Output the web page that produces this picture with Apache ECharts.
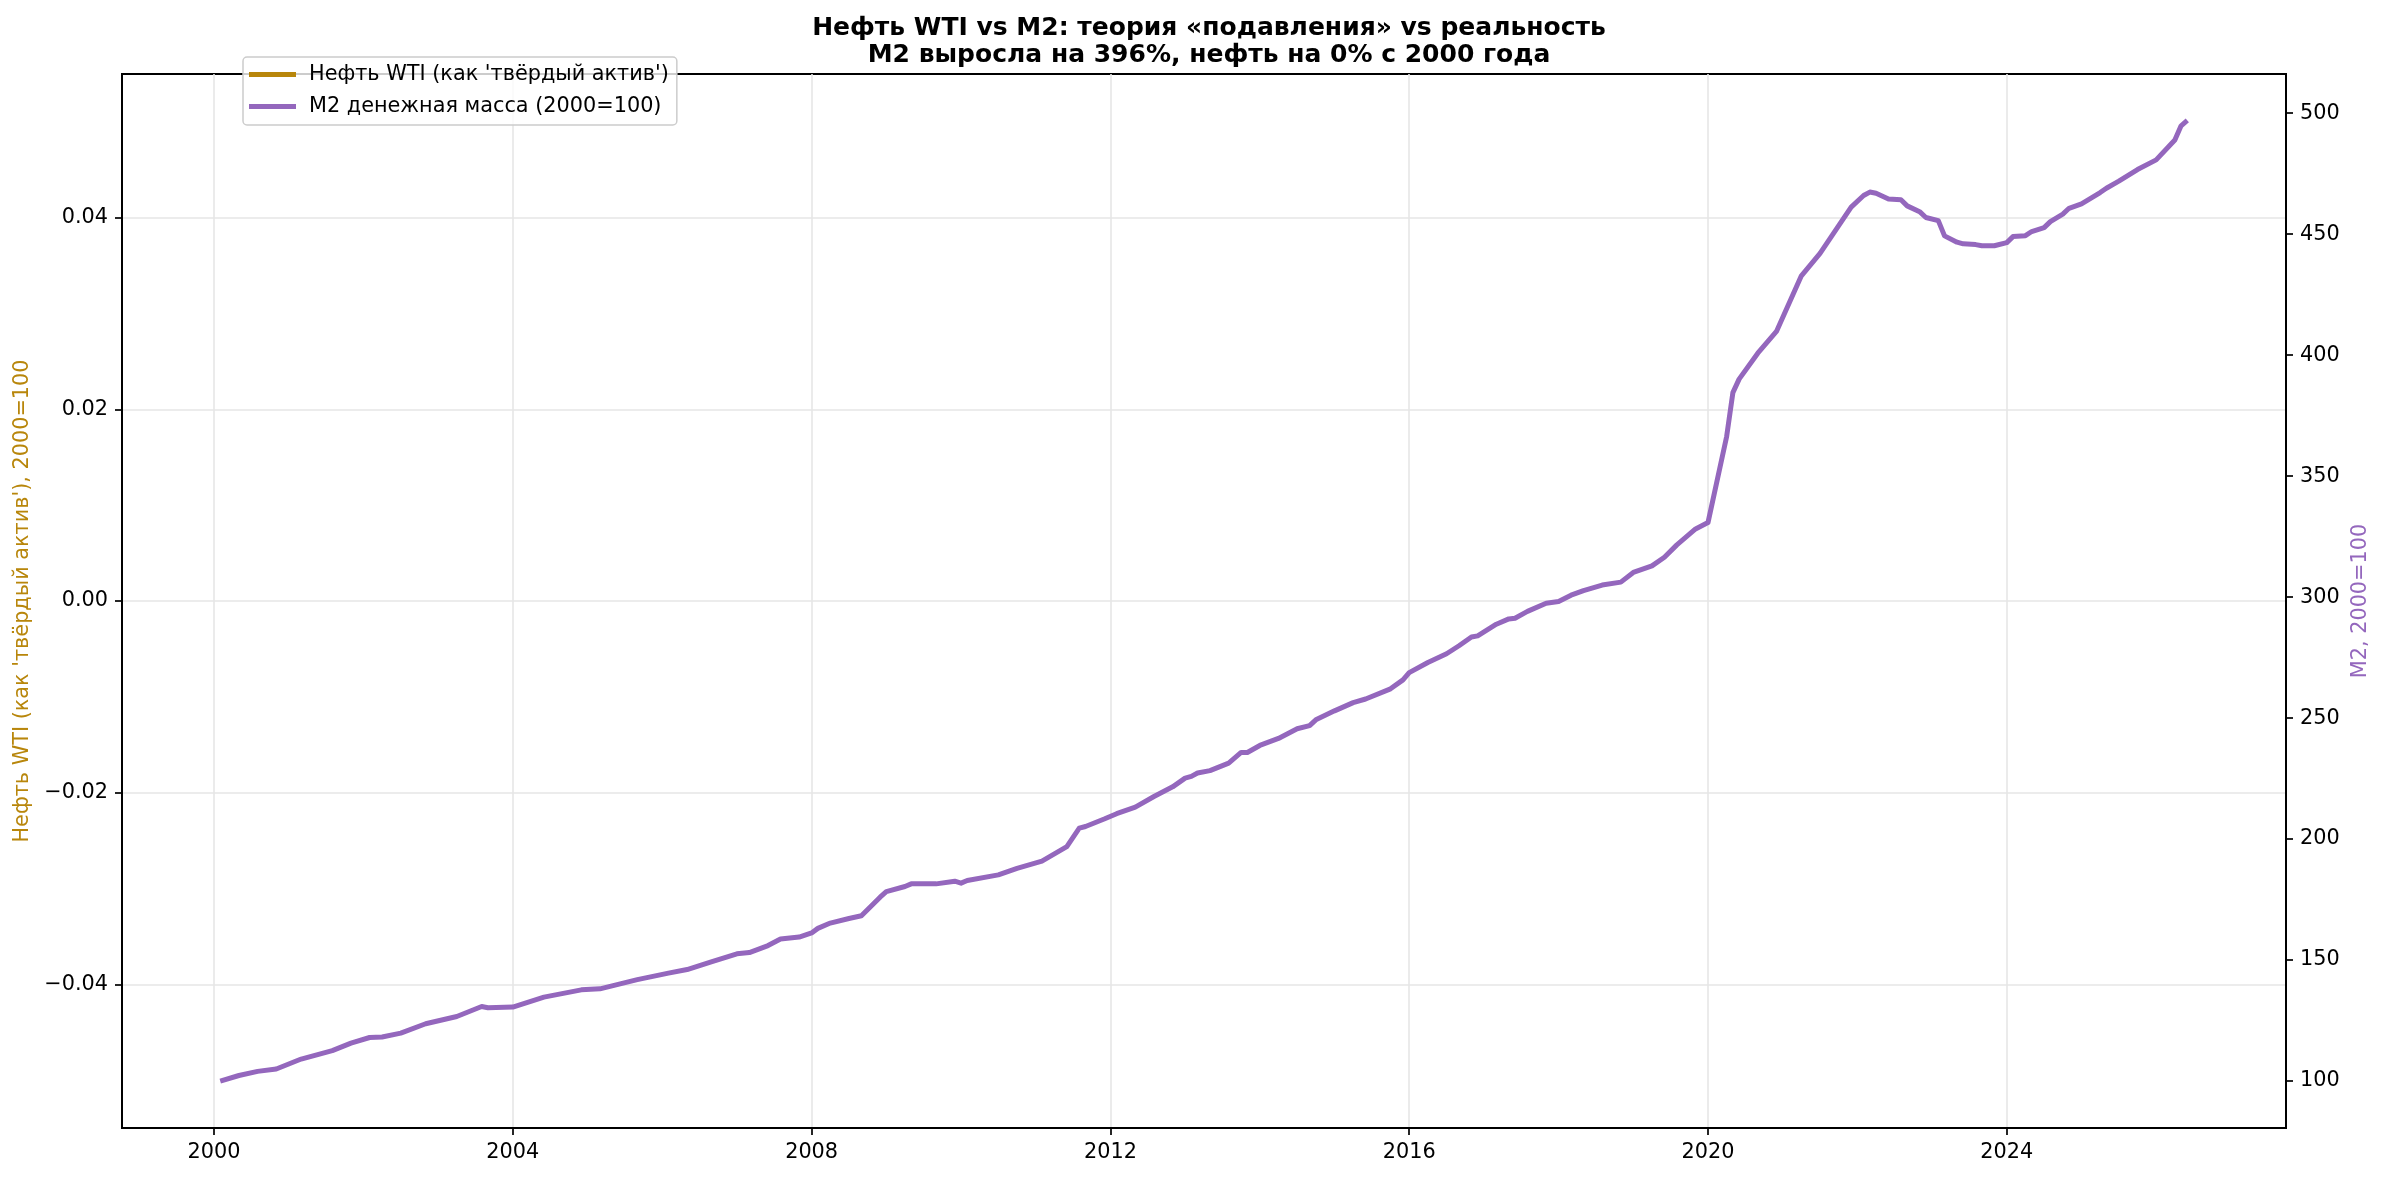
<!DOCTYPE html>
<html>
<head>
<meta charset="utf-8">
<script src="https://cdn.jsdelivr.net/npm/echarts@6/dist/echarts.min.js"></script>
<style>
  html, body { margin: 0; padding: 0; background: #fff; }
  #main { width: 2384px; height: 1178px; }
</style>
</head>
<body>
<div id="main"></div>
<script>
// месяцы (конец месяца) и индекс M2, 2000=100
var months = [
  '2000-01','2000-04','2000-07','2000-10','2001-02','2001-07','2001-10',
  '2002-01','2002-03','2002-06','2002-10','2003-03','2003-07','2003-08','2003-12',
  '2004-05','2004-11','2005-02','2005-08','2006-01','2006-04','2006-08','2006-12',
  '2007-02','2007-05','2007-07','2007-10','2007-12','2008-01','2008-03','2008-06',
  '2008-08','2008-11','2008-12','2009-03','2009-04','2009-08','2009-11','2009-12',
  '2010-01','2010-06','2010-09','2011-01','2011-05','2011-07','2011-08','2011-11',
  '2012-01','2012-04','2012-07','2012-10','2012-12','2013-01','2013-02','2013-04',
  '2013-07','2013-09','2013-10','2013-12','2014-03','2014-06','2014-08','2014-09',
  '2014-12','2015-03','2015-05','2015-09','2015-11','2015-12','2016-03','2016-06',
  '2016-08','2016-10','2016-11','2017-02','2017-04','2017-05','2017-07','2017-10',
  '2017-12','2018-02','2018-04','2018-07','2018-10','2018-12','2019-03','2019-05',
  '2019-07','2019-10','2019-12','2020-03','2020-04','2020-05','2020-08','2020-11',
  '2021-03','2021-06','2021-11','2022-01','2022-02','2022-03','2022-05','2022-07',
  '2022-08','2022-10','2022-11','2023-01','2023-02','2023-04','2023-05','2023-07',
  '2023-08','2023-10','2023-12','2024-01','2024-03','2024-04','2024-06','2024-07',
  '2024-09','2024-10','2024-12','2025-03','2025-04','2025-06','2025-09','2025-12',
  '2026-03','2026-04','2026-05'
];
var m2Index = [
  100.0, 102.3, 104.0, 105.0, 109.1, 112.6, 115.7,
  118.0, 118.2, 119.8, 123.7, 126.7, 130.8, 130.3, 130.6,
  134.7, 137.7, 138.1, 141.9, 144.6, 146.1, 149.4, 152.6,
  153.1, 156.0, 158.7, 159.5, 161.2, 163.1, 165.3, 167.2,
  168.3, 176.0, 178.3, 180.4, 181.5, 181.5, 182.6, 181.8,
  182.9, 185.2, 187.9, 190.9, 196.9, 204.5, 205.2, 208.3,
  210.5, 213.2, 217.6, 221.6, 225.2, 225.9, 227.3, 228.3,
  231.4, 235.8, 235.8, 238.7, 241.6, 245.6, 246.9, 249.3,
  253.0, 256.4, 257.9, 262.1, 265.8, 268.8, 273.0, 276.6,
  279.9, 283.5, 284.0, 288.8, 291.0, 291.3, 294.1, 297.5,
  298.2, 300.8, 302.7, 305.0, 306.2, 310.2, 312.9, 316.5,
  321.6, 328.2, 330.8, 366.4, 384.5, 390.1, 400.8, 409.8,
  432.8, 442.1, 461.2, 466.0, 467.4, 466.9, 464.5, 464.2,
  461.7, 459.3, 456.9, 455.6, 449.3, 446.7, 446.0, 445.7,
  445.2, 445.2, 446.5, 449.0, 449.4, 451.1, 452.7, 455.2,
  458.3, 460.7, 462.5, 467.2, 469.0, 471.9, 476.7, 480.7,
  488.9, 494.8, 497.0
];
// нефть: на графике линии нет
var oilIndex = [];

var xTicks = [2000, 2004, 2008, 2012, 2016, 2020, 2024];
var leftTicks = [-0.04, -0.02, 0.0, 0.02, 0.04];
var rightTicks = [100, 150, 200, 250, 300, 350, 400, 450, 500];

var OIL_COLOR = '#B8860B';
var M2_COLOR = '#9467BD';
var FONT = 'DejaVu Sans';
var SPINE = 2;

function toYear(s) {
  var p = s.split('-');
  return +p[0] + (+p[1]) / 12;
}

var m2Data = months.map(function (m, i) { return [toYear(m), m2Index[i]]; });

var myChart = echarts.init(document.getElementById('main'));

var option = {
  backgroundColor: '#fff',
  animation: false,
  textStyle: { fontFamily: FONT },
  title: {
    text: 'Нефть WTI vs M2: теория «подавления» vs реальность\nM2 выросла на 396%, нефть на 0% с 2000 года',
    left: 1204,
    top: 10,
    textAlign: 'center',
    textStyle: {
      fontFamily: FONT,
      fontSize: 25,
      fontWeight: 'bold',
      lineHeight: 27,
      color: '#000'
    }
  },
  legend: {
    orient: 'vertical',
    left: 243,
    top: 57,
    padding: [7, 8, 8, 6],
    itemGap: 11,
    itemWidth: 47,
    itemHeight: 5,
    icon: 'rect',
    backgroundColor: 'rgba(255,255,255,0.8)',
    borderColor: '#cccccc',
    borderWidth: 1.5,
    borderRadius: 4,
    textStyle: { fontFamily: FONT, fontSize: 20.8, color: '#000', padding: [0, 0, 0, 8] },
    data: ["Нефть WTI (как 'твёрдый актив')", 'M2 денежная масса (2000=100)']
  },
  grid: {
    left: 122,
    right: 98,
    top: 74,
    bottom: 50,
    show: true,
    borderColor: '#000',
    borderWidth: SPINE,
    outerBoundsMode: 'none'
  },
  xAxis: {
    type: 'value',
    min: 1998.768,
    max: 2027.738,
    axisLine: { show: true, onZero: false, lineStyle: { color: '#000', width: SPINE } },
    axisTick: { show: true, length: 7, customValues: xTicks, lineStyle: { color: '#000', width: 1.7 } },
    axisLabel: {
      customValues: xTicks,
      margin: 14,
      fontFamily: FONT,
      fontSize: 20.8,
      color: '#000',
      formatter: function (v) { return String(Math.round(v)); }
    },
    splitLine: { show: true, lineStyle: { color: '#e6e6e6', width: 1.6 } }
  },
  yAxis: [
    {
      type: 'value',
      position: 'left',
      min: -0.055,
      max: 0.055,
      name: "Нефть WTI (как 'твёрдый актив'), 2000=100",
      nameLocation: 'middle',
      nameGap: 86,
      nameTextStyle: { fontFamily: FONT, fontSize: 20.8, color: OIL_COLOR },
      axisLine: { show: true, onZero: false, lineStyle: { color: '#000', width: SPINE } },
      axisTick: { show: true, length: 7, customValues: leftTicks, lineStyle: { color: '#000', width: 1.7 } },
      axisLabel: {
        customValues: leftTicks,
        margin: 14,
        fontFamily: FONT,
        fontSize: 20.8,
        color: '#000',
        formatter: function (v) { return v.toFixed(2).replace('-', '\u2212'); }
      },
      splitLine: { show: true, lineStyle: { color: '#e6e6e6', width: 1.6 } }
    },
    {
      type: 'value',
      position: 'right',
      min: 80.6,
      max: 516.2,
      name: 'M2, 2000=100',
      nameLocation: 'middle',
      nameGap: 64,
      nameTextStyle: { fontFamily: FONT, fontSize: 20.8, color: M2_COLOR },
      axisLine: { show: true, onZero: false, lineStyle: { color: '#000', width: SPINE } },
      axisTick: { show: true, length: 7, customValues: rightTicks, lineStyle: { color: '#000', width: 1.7 } },
      axisLabel: {
        customValues: rightTicks,
        margin: 14,
        fontFamily: FONT,
        fontSize: 20.8,
        color: '#000'
      },
      splitLine: { show: false }
    }
  ],
  series: [
    {
      name: "Нефть WTI (как 'твёрдый актив')",
      type: 'line',
      yAxisIndex: 0,
      showSymbol: false,
      color: OIL_COLOR,
      lineStyle: { width: 5, color: OIL_COLOR },
      data: oilIndex
    },
    {
      name: 'M2 денежная масса (2000=100)',
      type: 'line',
      yAxisIndex: 1,
      showSymbol: false,
      color: M2_COLOR,
      lineStyle: { width: 5, color: M2_COLOR, join: 'round' },
      data: m2Data
    }
  ]
};

myChart.setOption(option);
</script>
</body>
</html>
